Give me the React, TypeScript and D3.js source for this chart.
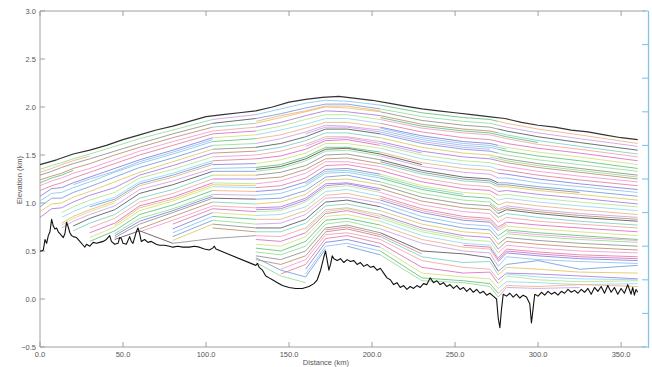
import * as d3 from 'd3';

const xTicks = [0, 50, 100, 150, 200, 250, 300, 350];
const yTicks = [-0.5, 0, 0.5, 1.0, 1.5, 2.0, 2.5, 3.0];
const rightTicks = [0, 0.1, 0.2, 0.3, 0.4, 0.5, 0.6, 0.7, 0.8, 0.9, 1.0];

// ice surface (km distance, km elevation)
const surfaceKm = [0, 10, 20, 30, 40, 50, 60, 70, 80, 90, 100, 110, 120, 130, 140, 150, 160, 170, 180,
  190, 200, 210, 220, 230, 240, 250, 260, 270, 280, 290, 300, 310, 320, 330, 340, 350, 360];
const surfaceElev = [1.40, 1.45, 1.51, 1.55, 1.60, 1.66, 1.71, 1.76, 1.80, 1.85, 1.90, 1.92, 1.94, 1.96, 2.00,
  2.05, 2.08, 2.10, 2.11, 2.09, 2.07, 2.04, 2.01, 1.98, 1.96, 1.94, 1.92, 1.90, 1.88, 1.84, 1.81, 1.79, 1.76,
  1.74, 1.71, 1.68, 1.66];

// bed
const bedKm = [0, 1, 2, 3, 4, 5, 6, 7, 8, 9, 10, 11, 12, 13, 14, 15, 16, 17, 18, 19, 20, 22, 24, 26, 27, 28,
  30, 32, 34, 36, 38, 40, 42, 43, 45, 47, 48, 49, 50, 52, 54, 55, 56, 58, 59, 60, 61, 63, 65, 67, 70, 72, 75,
  78, 80, 83, 86, 90, 93, 96, 99, 102, 104, 105, 106, 130, 131, 132, 134, 136, 138, 140, 143, 146, 150, 154,
  158, 162, 165, 167, 169, 171, 172, 173, 174, 175, 176, 177, 179, 181, 183, 185, 187, 189, 191, 193, 195,
  197, 199, 201, 203, 205, 207, 209, 211, 213, 215, 217, 219, 221, 223, 225, 227, 229, 231, 233, 235, 237,
  239, 241, 243, 245, 247, 249, 251, 253, 255, 257, 259, 261, 263, 265, 267, 269, 271, 273, 275, 276, 277,
  278, 279, 281, 283, 285, 287, 289, 291, 293, 295, 296, 297, 298, 300, 302, 304, 306, 308, 310, 312, 314,
  316, 318, 320, 322, 324, 326, 328, 330, 332, 334, 336, 338, 340, 342, 344, 346, 348, 350, 352, 354, 356,
  357, 358, 359, 360];
const bedElev = [0.50, 0.50, 0.51, 0.62, 0.58, 0.66, 0.70, 0.83, 0.76, 0.73, 0.74, 0.70, 0.68, 0.66, 0.64,
  0.68, 0.80, 0.75, 0.69, 0.66, 0.65, 0.64, 0.60, 0.56, 0.54, 0.57, 0.55, 0.59, 0.58, 0.59, 0.60, 0.62, 0.66,
  0.60, 0.57, 0.58, 0.64, 0.63, 0.58, 0.57, 0.65, 0.60, 0.58, 0.70, 0.74, 0.68, 0.60, 0.62, 0.59, 0.60, 0.57,
  0.56, 0.56, 0.55, 0.54, 0.55, 0.54, 0.54, 0.55, 0.54, 0.52, 0.51, 0.53, 0.55, 0.52, 0.35, 0.37, 0.33, 0.30,
  0.24, 0.22, 0.20, 0.17, 0.14, 0.12, 0.11, 0.11, 0.13, 0.16, 0.20, 0.30, 0.44, 0.50, 0.40, 0.30, 0.36, 0.45,
  0.42, 0.40, 0.42, 0.38, 0.41, 0.39, 0.40, 0.36, 0.38, 0.34, 0.36, 0.33, 0.34, 0.30, 0.32, 0.27, 0.22, 0.20,
  0.15, 0.17, 0.12, 0.14, 0.10, 0.13, 0.11, 0.14, 0.12, 0.16, 0.15, 0.22, 0.17, 0.19, 0.15, 0.17, 0.13, 0.15,
  0.11, 0.14, 0.10, 0.12, 0.08, 0.11, 0.07, 0.10, 0.06, 0.08, 0.04, 0.06, 0.03, 0.00, -0.20, -0.30, -0.10,
  0.05, 0.03, 0.06, 0.02, 0.05, 0.01, 0.04, 0.02, -0.05, -0.25, -0.10, 0.05, 0.03, 0.07, 0.04, 0.08, 0.05,
  0.07, 0.04, 0.08, 0.06, 0.10, 0.07, 0.09, 0.06, 0.10, 0.07, 0.11, 0.05, 0.12, 0.08, 0.13, 0.06, 0.14, 0.07,
  0.12, 0.05, 0.11, 0.06, 0.15, 0.05, 0.12, 0.04, 0.10, 0.07];

// internal layers, elevation at these distances (null = not traced)
const layerKm = [0, 7, 13, 20, 30, 45, 60, 80, 104, 130, 145, 160, 172, 185, 205, 230, 255, 271, 276, 281, 300, 325, 360];
const layers: (number | null)[][] = [
  [1.35, 1.39, 1.42, 1.46, 1.51, 1.59, 1.67, 1.76, 1.87, 1.92, 1.98, 2.04, 2.07, 2.06, 2.02, 1.94, 1.89, 1.87, 1.85, 1.83, 1.77, 1.71, 1.62],
  [1.29, 1.33, 1.37, 1.41, 1.46, 1.54, 1.62, 1.72, 1.83, 1.88, 1.93, 1.99, 2.03, 2.03, 1.98, 1.90, 1.85, 1.83, 1.81, 1.79, 1.73, 1.67, 1.59],
  [1.24, 1.28, 1.31, 1.36, 1.41, 1.50, 1.58, 1.68, 1.79, 1.83, 1.89, 1.95, 2.00, 1.99, 1.95, 1.86, 1.81, 1.79, 1.77, 1.75, 1.69, 1.63, 1.55],
  [1.18, 1.23, 1.26, 1.31, 1.36, 1.45, 1.54, 1.64, 1.75, 1.79, 1.84, 1.91, 1.96, 1.95, 1.91, 1.82, 1.77, 1.75, 1.73, 1.71, 1.65, 1.59, 1.51],
  [1.13, 1.18, 1.21, 1.26, 1.32, 1.41, 1.50, 1.60, 1.72, 1.75, 1.80, 1.87, 1.92, 1.92, 1.87, 1.78, 1.73, 1.71, 1.69, 1.67, 1.61, 1.56, 1.48],
  [1.07, 1.15, 1.16, 1.21, 1.27, 1.36, 1.45, 1.55, 1.68, 1.71, 1.76, 1.82, 1.88, 1.88, 1.83, 1.74, 1.68, 1.66, 1.64, 1.62, 1.57, 1.52, 1.44],
  [1.02, 1.10, 1.11, 1.16, 1.22, 1.32, 1.41, 1.51, 1.64, 1.67, 1.71, 1.78, 1.84, 1.84, 1.79, 1.70, 1.64, 1.62, 1.60, 1.58, 1.53, 1.48, 1.40],
  [0.96, 1.05, 1.05, 1.11, 1.17, 1.27, 1.37, 1.47, 1.60, 1.62, 1.67, 1.74, 1.81, 1.80, 1.76, 1.66, 1.60, 1.58, 1.56, 1.54, 1.49, 1.44, 1.36],
  [0.91, 0.99, 1.00, 1.06, 1.12, 1.22, 1.32, 1.43, 1.56, 1.58, 1.62, 1.69, 1.77, 1.77, 1.72, 1.62, 1.56, 1.54, 1.52, 1.50, 1.45, 1.40, 1.33],
  [0.85, 0.94, 0.95, 1.01, 1.08, 1.16, 1.29, 1.39, 1.52, 1.54, 1.58, 1.65, 1.73, 1.73, 1.68, 1.58, 1.52, 1.50, 1.48, 1.46, 1.41, 1.36, 1.29],
  [0.80, null, 0.90, 0.96, 1.03, 1.11, 1.26, 1.35, 1.48, 1.50, 1.54, 1.61, 1.69, 1.69, 1.64, 1.54, 1.48, 1.46, 1.44, 1.42, 1.37, 1.32, 1.25],
  [0.74, null, 0.85, 0.91, 0.98, 1.06, 1.22, 1.31, 1.44, 1.46, 1.49, 1.56, 1.65, 1.66, 1.60, 1.50, 1.44, 1.42, 1.40, 1.38, 1.33, 1.28, 1.22],
  [0.69, null, 0.79, 0.86, 0.93, 1.02, 1.18, 1.27, 1.40, 1.41, 1.45, 1.52, 1.62, 1.62, 1.57, 1.46, 1.40, 1.38, 1.35, 1.34, 1.29, 1.24, 1.18],
  [0.63, null, 0.74, 0.81, 0.88, 0.97, 1.14, 1.23, 1.36, 1.37, 1.40, 1.48, 1.58, 1.58, 1.53, 1.42, 1.36, 1.34, 1.31, 1.30, 1.25, 1.20, 1.14],
  [0.58, null, null, 0.76, 0.84, 0.93, 1.10, 1.19, 1.33, 1.33, 1.36, 1.44, 1.54, 1.55, 1.49, 1.38, 1.32, 1.30, 1.26, 1.26, 1.21, 1.17, 1.11],
  [null, null, null, 0.71, 0.79, 0.88, 1.05, 1.14, 1.29, 1.29, 1.32, 1.39, 1.50, 1.51, 1.45, 1.34, 1.27, 1.25, 1.21, 1.21, 1.17, 1.13, 1.07],
  [null, null, null, null, 0.74, 0.84, 1.01, 1.10, 1.25, 1.25, 1.27, 1.35, 1.46, 1.47, 1.41, 1.30, 1.23, 1.21, 1.17, 1.17, 1.13, 1.09, 1.03],
  [null, null, null, null, 0.69, 0.79, 0.97, 1.06, 1.21, 1.20, 1.23, 1.31, 1.43, 1.43, 1.38, 1.26, 1.19, 1.17, 1.12, 1.13, 1.09, 1.05, 0.99],
  [null, null, null, null, 0.64, 0.75, 0.92, 1.02, 1.17, 1.16, 1.18, 1.26, 1.39, 1.40, 1.34, 1.22, 1.15, 1.13, 1.08, 1.09, 1.05, 1.01, 0.96],
  [null, null, null, null, 0.60, 0.71, 0.88, 0.98, 1.13, 1.12, 1.14, 1.22, 1.35, 1.36, 1.30, 1.18, 1.11, 1.09, 1.03, 1.05, 1.01, 0.97, 0.92],
  [null, null, null, null, null, 0.68, 0.84, 0.94, 1.09, 1.08, 1.10, 1.18, 1.31, 1.32, 1.26, 1.14, 1.07, 1.05, 0.98, 1.01, 0.97, 0.93, 0.88],
  [null, null, null, null, null, 0.64, 0.78, 0.90, 1.05, 1.04, 1.05, 1.13, 1.27, 1.29, 1.22, 1.10, 1.03, 1.01, 0.94, 0.97, 0.93, 0.89, 0.85],
  [null, null, null, null, null, null, 0.73, 0.86, 1.01, 0.99, 1.01, 1.09, 1.24, 1.25, 1.19, 1.06, 0.99, 0.97, 0.89, 0.93, 0.89, 0.85, 0.81],
  [null, null, null, null, null, null, 0.70, 0.82, 0.97, 0.95, 0.96, 1.05, 1.20, 1.21, 1.15, 1.02, 0.95, 0.93, 0.85, 0.89, 0.85, 0.81, 0.77],
  [null, null, null, null, null, null, null, 0.78, 0.94, 0.91, 0.92, 1.01, 1.16, 1.18, 1.11, 0.98, 0.91, 0.89, 0.80, 0.85, 0.81, 0.78, 0.74],
  [null, null, null, null, null, null, null, 0.73, 0.90, 0.87, 0.88, 0.96, 1.12, 1.14, 1.07, 0.94, 0.86, 0.84, 0.75, 0.80, 0.77, 0.74, 0.70],
  [null, null, null, null, null, null, null, 0.69, 0.86, 0.83, 0.83, 0.92, 1.08, 1.10, 1.03, 0.90, 0.82, 0.80, 0.71, 0.76, 0.73, 0.70, 0.66],
  [null, null, null, null, null, null, null, 0.65, 0.82, 0.78, 0.79, 0.88, 1.05, 1.06, 1.00, 0.86, 0.78, 0.76, 0.66, 0.72, 0.69, 0.66, 0.62],
  [null, null, null, null, null, null, null, 0.61, 0.78, 0.74, 0.74, 0.83, 1.01, 1.03, 0.96, 0.82, 0.74, 0.72, 0.62, 0.68, 0.65, 0.62, 0.59],
  [null, null, null, null, null, null, null, null, 0.74, 0.70, 0.70, 0.79, 0.97, 0.99, 0.92, 0.78, 0.70, 0.68, 0.57, 0.64, 0.61, 0.58, 0.55],
  [null, null, null, null, null, null, null, null, null, 0.66, 0.65, 0.74, 0.93, 0.95, 0.88, 0.74, 0.66, 0.64, 0.52, 0.60, 0.57, 0.54, 0.51],
  [null, null, null, null, null, null, null, null, null, 0.62, 0.60, 0.69, 0.89, 0.92, 0.84, 0.70, 0.62, 0.60, 0.48, 0.56, 0.53, 0.50, 0.48],
  [null, null, null, null, null, null, null, null, null, 0.57, 0.55, 0.65, 0.86, 0.88, 0.81, 0.66, 0.58, 0.56, 0.43, 0.52, 0.49, 0.46, 0.44],
  [null, null, null, null, null, null, null, null, null, 0.53, 0.50, 0.60, 0.82, 0.84, 0.77, 0.62, 0.54, 0.52, 0.39, 0.48, 0.45, 0.42, 0.40],
  [null, null, null, null, null, null, null, null, null, 0.49, 0.46, 0.55, 0.78, 0.81, 0.73, 0.58, 0.50, 0.48, 0.34, 0.44, 0.41, 0.39, 0.37],
  [null, null, null, null, null, null, null, null, null, 0.45, 0.41, 0.50, 0.74, 0.77, 0.69, 0.50, 0.47, 0.43, 0.29, 0.36, 0.40, 0.31, 0.35],
  [null, null, null, null, null, null, null, null, null, 0.41, 0.36, 0.45, 0.70, 0.73, 0.65, 0.44, 0.38, 0.39, 0.25, 0.33, 0.31, 0.28, 0.27],
  [null, null, null, null, null, null, null, null, null, null, 0.31, 0.41, 0.67, 0.69, 0.62, 0.40, 0.33, 0.31, 0.20, 0.27, 0.26, 0.24, 0.21],
  [null, null, null, null, null, null, null, null, null, null, 0.26, 0.36, 0.63, 0.66, 0.58, 0.33, 0.27, 0.28, 0.16, 0.24, 0.20, 0.18, 0.19],
  [null, null, null, null, null, null, null, null, null, null, null, 0.31, 0.59, 0.62, 0.54, 0.27, 0.23, 0.21, 0.11, 0.18, 0.17, 0.15, 0.16],
  [null, null, null, null, null, null, null, null, null, null, null, 0.26, 0.55, 0.58, 0.50, 0.22, 0.19, 0.16, 0.06, 0.14, 0.13, 0.15, 0.13],
  [null, null, null, null, null, null, null, null, null, null, null, 0.21, null, 0.55, 0.46, 0.19, 0.17, 0.13, 0.02, 0.12, 0.11, 0.12, null],
];

// short traced pieces: [first distance on layerKm, elevations from there on]
const fragments: [number, number[]][] = [
  [130, [1.85, 1.91, 1.96, 2.01, 2.01, 1.96]],
  [205, [1.89, 1.80, 1.75, 1.73, 1.71, 1.69, 1.63]],
  [20, [1.19, 1.25, 1.33, 1.43, 1.53, 1.66]],
  [160, [1.72, 1.79, 1.79, 1.74, 1.64, 1.58, 1.56]],
  [271, [1.48, 1.46, 1.44, 1.39, 1.34, 1.27]],
  [30, [0.96, 1.04, 1.20, 1.29, 1.42]],
  [130, [1.35, 1.38, 1.46, 1.56, 1.57, 1.51, 1.40]],
  [205, [1.43, 1.32, 1.25, 1.23, 1.19, 1.19, 1.15, 1.11]],
  [45, [0.77, 0.95, 1.04, 1.19, 1.18]],
  [160, [1.20, 1.33, 1.34, 1.28, 1.16, 1.09]],
  [271, [0.99, 0.92, 0.95, 0.91, 0.87, 0.83]],
  [130, [0.93, 0.94, 1.03, 1.18, 1.20, 1.13]],
  [205, [1.05, 0.92, 0.84, 0.82, 0.73, 0.78]],
  [281, [0.70, 0.67, 0.64, 0.61]],
  [160, [0.72, 0.91, 0.94, 0.86, 0.72, 0.64]],
  [255, [0.56, 0.54, 0.41, 0.50, 0.47, 0.44, 0.42]],
  [172, [0.72, 0.75, 0.67, 0.47]],
  [281, [0.26, 0.23, 0.21, 0.20]],
  [13, [0.77, 0.84, 0.91, 1.00]],
  [45, [0.66, 0.81, 0.92, 1.07]],
  [0, [1.32, 1.36, 1.40, 1.44, 1.49]],
  [0, [1.21, 1.26, 1.29, 1.34]],
  [205, [1.78, 1.68, 1.62, 1.60, 1.58, 1.56]],
  [160, [1.59, 1.67, 1.68, 1.62, 1.52]],
  [130, [0.38, 0.24, 0.17]],
  [130, [0.43, 0.30, 0.23, 0.52]],
  [45, [0.62, 0.71, 0.58]],
  [80, [0.58, 0.63, 0.66]],
];

const palette = ['#94dd94', '#ef9ad2', '#8ec0ee', '#a57ae3', '#f1b07f', '#78d2c2', '#d2e07a', '#8f8f8f',
  '#e07f9c', '#6d9de0', '#b6e48e', '#c8a2e8', '#f3a4a4', '#5fc27a', '#b8906a', '#7f80de', '#e4c45e',
  '#8fdaea', '#555555', '#d86cc4'];
const segBreaks = [0, 8, 9, 14, 18, 22];

const W = 652;
const H = 367;
const font = '"Liberation Sans", Arial, Helvetica, sans-serif';

export default function App() {
  const x = d3.scaleLinear().domain([0, 365]).range([40, 646]);
  const y = d3.scaleLinear().domain([-0.5, 3.0]).range([347, 11]);
  const yRight = d3.scaleLinear().domain([0, 1]).range([347, 11]);

  const line = d3.line<[number, number | null]>()
    .defined(d => d[1] != null)
    .x(d => x(d[0]))
    .y(d => y(d[1] as number));

  const surface = d3.zip(surfaceKm, surfaceElev) as [number, number][];
  const bed = d3.zip(bedKm, bedElev) as [number, number][];

  const layerPaths: { d: string; color: string }[] = [];
  layers.forEach((row, li) => {
    for (let s = 0; s < segBreaks.length - 1; s++) {
      const pts: [number, number | null][] = [];
      for (let k = segBreaks[s]; k <= segBreaks[s + 1]; k++) pts.push([layerKm[k], row[k]]);
      const d = line(pts);
      if (d) layerPaths.push({ d, color: palette[(li * 7 + s * 11) % palette.length] });
    }
  });
  fragments.forEach(([start, vals], fi) => {
    const k0 = layerKm.indexOf(start);
    const pts = vals.map((v, j) => [layerKm[k0 + j], v] as [number, number]);
    const d = line(pts);
    if (d) layerPaths.push({ d, color: palette[(fi * 9 + 4) % palette.length] });
  });

  const axisColor = '#a0a0a0';
  const textColor = '#555';

  return (
    <svg width={W} height={H} style={{ position: 'absolute', left: 0, top: 0, background: '#fff' }}
      fontFamily={font}>
      <rect x={0} y={0} width={W} height={H} fill="#fff" />

      <line x1={40} x2={646} y1={11} y2={11} stroke={axisColor} />
      <line x1={40} x2={646} y1={347} y2={347} stroke={axisColor} />
      <line x1={40} x2={40} y1={11} y2={347} stroke={axisColor} />

      {xTicks.map(t => (
        <g key={'x' + t}>
          <line x1={x(t)} x2={x(t)} y1={347} y2={342} stroke={axisColor} />
          <line x1={x(t)} x2={x(t)} y1={11} y2={16} stroke={axisColor} />
          <text x={x(t)} y={357} fontSize={7.5} fill={textColor} textAnchor="middle">{d3.format('.1f')(t)}</text>
        </g>
      ))}
      {yTicks.map(t => (
        <g key={'y' + t}>
          <line x1={40} x2={45} y1={y(t)} y2={y(t)} stroke={axisColor} />
          <text x={36} y={y(t)} dy="0.35em" fontSize={7.5} fill={textColor} textAnchor="end">{d3.format('.1f')(t)}</text>
        </g>
      ))}

      <line x1={648.5} x2={648.5} y1={11} y2={348} stroke="#86c3ec" strokeWidth={1.3} />
      {rightTicks.map(t => (
        <line key={'r' + t} x1={642} x2={648.5} y1={yRight(t)} y2={yRight(t)} stroke="#86c3ec" strokeWidth={1.1} />
      ))}

      <text x={326} y={365} fontSize={7.5} fill={textColor} textAnchor="middle">Distance (km)</text>
      <text transform="translate(19,180) rotate(-90)" fontSize={7.5} fill={textColor} textAnchor="middle" dy="0.35em">Elevation (km)</text>

      <g fill="none" strokeLinejoin="round">
        {layerPaths.map((p, i) => (
          <path key={i} d={p.d} stroke={p.color} strokeWidth={0.85} />
        ))}
        <path d={line(bed) || ''} stroke="#111" strokeWidth={1.1} />
        <path d={line(surface) || ''} stroke="#333" strokeWidth={1.2} />
      </g>
    </svg>
  );
}
